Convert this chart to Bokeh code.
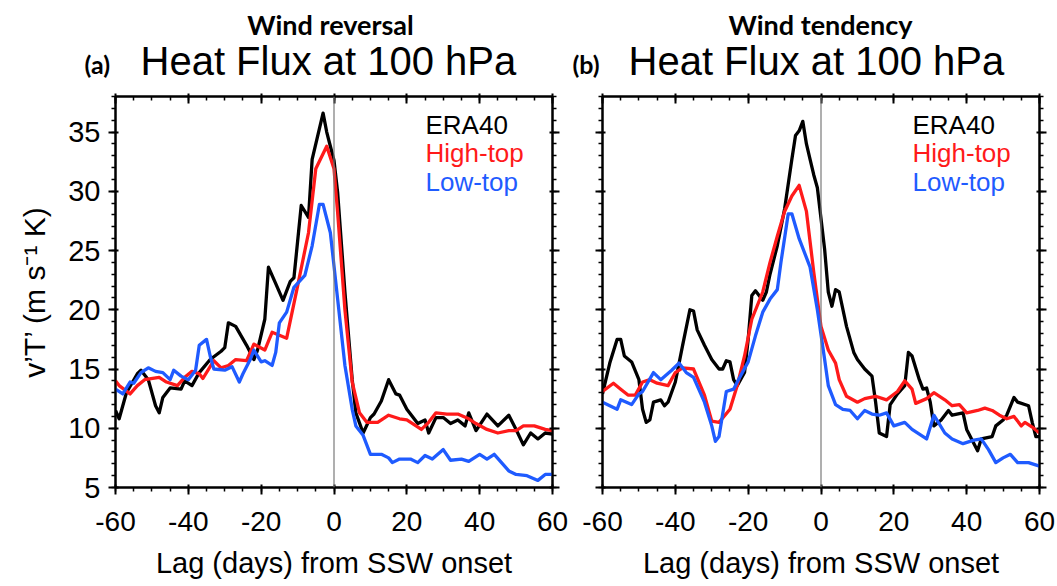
from bokeh.plotting import figure
from bokeh.layouts import row, column
from bokeh.models import (Range1d, LinearAxis, SingleIntervalTicker, Span, Label,
                          CustomLabelingPolicy)
from bokeh.embed import file_html
from bokeh.resources import INLINE

# ---------------- data ----------------
panel_titles = ["Wind reversal", "Wind tendency"]
panel_tags = ["(a)", "(b)"]
plot_title = "Heat Flux at 100 hPa"
series_names = ["ERA40", "High-top", "Low-top"]
series_colors = ["#000000", "#ff1a1a", "#1f5bff"]
x_label = "Lag (days) from SSW onset"
y_label = "v\u2019T\u2019 (m s\u207b\u00b9 K)"
x_ticks = [-60, -40, -20, 0, 20, 40, 60]
y_ticks = [5, 10, 15, 20, 25, 30, 35]

# Panel (a) Wind reversal
a_era_lag = [-60, -59, -57, -54, -53, -51, -49, -48, -47, -45, -42, -41, -39, -37, -34, -31, -30, -29, -27,
             -24, -22, -21, -19, -18, -16, -14, -12, -11, -9, -7, -6, -3, -2, -1, 0, 1, 3, 5, 6, 8, 10, 11,
             13, 15, 17, 18, 20, 23, 25, 26, 28, 30, 32, 34, 36, 37, 39, 42, 45, 48, 50, 52, 54, 56, 58, 60]
a_era_val = [11.5, 10.8, 13.0, 14.6, 14.9, 14.1, 11.9, 11.3, 12.6, 13.4, 13.3, 14.0, 13.6, 14.7, 15.8, 16.5,
             16.8, 18.9, 18.6, 17.0, 15.8, 16.6, 19.2, 23.6, 22.2, 20.8, 22.4, 22.7, 28.8, 27.8, 32.7, 36.6,
             35.0, 33.8, 32.6, 29.9, 21.5, 14.1, 11.3, 9.6, 10.9, 11.2, 12.3, 14.1, 12.9, 12.8, 11.6, 10.4,
             10.7, 9.6, 10.9, 10.9, 10.4, 10.7, 10.2, 11.3, 9.8, 11.2, 10.2, 11.1, 9.9, 8.6, 9.6, 9.1, 9.6, 9.5]
a_high_lag = [-60, -59, -56, -54, -52, -48, -46, -43, -41, -39, -37, -36, -33, -31, -29, -27, -24, -22, -19,
              -17, -13, -10, -7, -5, -2, 0, 1, 3, 5, 7, 9, 12, 15, 18, 20, 24, 26, 28, 31, 34, 37, 39, 42,
              45, 48, 50, 52, 55, 58, 60]
a_high_val = [14.0, 13.6, 12.9, 13.6, 14.1, 14.3, 13.9, 13.6, 14.3, 14.8, 14.6, 14.2, 15.7, 15.1, 15.3, 15.8,
              15.7, 17.1, 16.6, 18.1, 17.6, 22.0, 26.5, 31.9, 33.8, 31.9, 28.2, 20.0, 13.9, 11.3, 10.5, 10.5,
              11.1, 10.8, 10.7, 9.9, 10.5, 11.3, 11.2, 11.2, 10.8, 10.4, 9.9, 9.6, 9.8, 9.8, 10.2, 10.2, 9.9, 9.8]
a_low_lag = [-60, -58, -56, -55, -53, -51, -49, -47, -45, -44, -42, -40, -38, -37, -35, -34, -33, -30, -28,
             -26, -25, -23, -22, -20, -19, -17, -16, -15, -13, -11, -8, -6, -4, -3, -1, 1, 3, 5, 6, 8, 10,
             13, 15, 16, 18, 21, 23, 25, 27, 30, 32, 35, 37, 40, 42, 44, 46, 48, 50, 53, 56, 58, 60]
a_low_val = [13.3, 12.9, 13.9, 13.8, 14.7, 15.1, 14.8, 14.7, 14.1, 14.9, 14.4, 14.1, 14.9, 17.0, 17.5, 16.1,
             15.0, 14.9, 15.2, 13.9, 14.6, 15.8, 16.6, 15.6, 15.7, 15.3, 16.4, 18.9, 19.8, 21.9, 22.9, 25.4,
             28.9, 28.9, 26.5, 20.9, 15.3, 11.6, 10.2, 9.4, 7.8, 7.8, 7.5, 7.1, 7.4, 7.4, 7.1, 7.7, 7.4, 8.2,
             7.3, 7.4, 7.2, 7.8, 7.4, 7.8, 7.1, 6.4, 6.1, 6.0, 5.6, 6.1, 6.1]

# Panel (b) Wind tendency
b_era_lag = [-60, -58, -56, -55, -54, -52, -50, -49, -48, -47, -46, -44, -43, -42, -40, -38, -36, -35, -34,
             -32, -30, -28, -27, -26, -25, -24, -23, -21, -20, -19, -18, -16, -15, -14, -12, -10, -8, -7,
             -6, -5, -4, -3, -2, -1, 1, 2, 3, 4, 5, 7, 9, 10, 12, 14, 15, 16, 18, 19, 21, 23, 24, 25, 27,
             28, 29, 30, 31, 33, 35, 36, 39, 40, 43, 44, 47, 48, 50, 51, 53, 54, 57, 58, 59, 60]
b_era_val = [12.9, 15.5, 17.5, 17.5, 16.1, 15.6, 14.1, 11.6, 10.5, 10.7, 12.2, 12.4, 11.9, 12.2, 13.9, 17.0,
             20.0, 19.9, 18.3, 17.0, 15.8, 15.0, 15.0, 15.7, 15.6, 14.1, 13.6, 14.7, 17.5, 21.2, 21.6, 20.8,
             21.5, 23.0, 25.4, 28.5, 32.7, 34.7, 35.1, 35.9, 34.0, 32.7, 31.4, 30.3, 25.1, 21.5, 20.3, 21.7,
             21.5, 18.6, 16.4, 15.8, 15.0, 14.4, 12.2, 9.6, 9.3, 12.0, 12.9, 13.6, 16.4, 16.1, 14.1, 13.3,
             13.4, 12.2, 10.2, 10.7, 11.5, 11.1, 11.3, 9.9, 8.1, 9.1, 9.3, 10.2, 10.7, 11.1, 12.6, 12.2, 11.9,
             10.5, 9.3, 9.3]
b_high_lag = [-60, -57, -55, -53, -51, -49, -47, -45, -42, -40, -38, -35, -32, -30, -28, -25, -23, -21, -19,
              -16, -14, -12, -10, -8, -6, -4, -2, 0, 2, 4, 5, 7, 10, 12, 15, 18, 21, 23, 25, 26, 29, 31,
              34, 36, 38, 40, 43, 45, 47, 49, 51, 53, 55, 56, 58, 60]
b_high_val = [13.1, 13.8, 13.3, 12.8, 12.8, 13.9, 14.1, 13.8, 13.6, 14.7, 15.1, 15.0, 12.8, 10.6, 10.5, 11.6,
              13.6, 16.1, 19.2, 21.5, 24.0, 26.2, 28.3, 29.6, 30.5, 28.3, 23.2, 18.6, 16.6, 15.5, 14.1, 12.7,
              12.2, 12.5, 12.7, 12.4, 13.1, 14.0, 13.3, 12.1, 12.5, 13.0, 12.4, 11.9, 12.0, 11.3, 11.5, 11.7,
              11.5, 11.1, 10.8, 11.0, 10.2, 10.5, 10.1, 9.6]
b_low_lag = [-60, -58, -56, -55, -52, -50, -49, -46, -44, -41, -39, -37, -35, -32, -30, -29, -28, -26, -24,
             -23, -20, -18, -16, -14, -12, -11, -9, -8, -6, -3, -1, 1, 2, 4, 6, 8, 10, 12, 14, 16, 18, 20,
             23, 25, 29, 31, 34, 36, 39, 42, 44, 46, 48, 50, 52, 54, 57, 60]
b_low_val = [12.2, 11.9, 11.6, 12.4, 12.0, 12.9, 13.1, 14.7, 14.1, 14.9, 15.5, 14.7, 14.3, 12.2, 10.2, 8.9,
             9.3, 13.1, 13.3, 13.9, 15.6, 17.8, 19.8, 20.9, 21.7, 24.0, 28.1, 28.1, 26.0, 23.6, 20.0, 15.8,
             13.6, 12.0, 11.6, 11.5, 10.8, 11.5, 11.2, 11.1, 11.3, 10.2, 10.5, 9.9, 9.1, 11.1, 9.6, 9.1, 8.7,
             9.0, 9.1, 8.2, 7.1, 7.5, 7.8, 7.1, 7.1, 6.8]

panels = [
    [(a_era_lag, a_era_val), (a_high_lag, a_high_val), (a_low_lag, a_low_val)],
    [(b_era_lag, b_era_val), (b_high_lag, b_high_val), (b_low_lag, b_low_val)],
]

# ---------------- layout constants ----------------
W, H = 1057, 586
HEAD = 82
X0, X1 = -60, 60
Y0, Y1 = 5, 38
FW, FH = 437, 391
TOP, BOTTOM = 12, 101
SANS = "Liberation Sans"
BOLD = "Lato"

no_labels = CustomLabelingPolicy(code="for (const i of indices) indices.unset(i)")


def style(ax, inward=False):
    ax.axis_line_width = 2
    ax.major_tick_line_width = 2
    ax.minor_tick_line_width = 1.5
    if inward:
        ax.major_tick_in = 7
        ax.major_tick_out = 3
        ax.minor_tick_in = 4
        ax.minor_tick_out = 0
    else:
        ax.major_tick_in = 3
        ax.major_tick_out = 7
        ax.minor_tick_in = 0
        ax.minor_tick_out = 4
    ax.major_label_text_font = SANS
    ax.major_label_text_color = "black"
    ax.axis_label_text_font = SANS
    ax.axis_label_text_font_style = "normal"
    ax.axis_label_text_color = "black"


def make_panel(idx, border_left, border_right):
    p = figure(frame_width=FW, frame_height=FH,
               min_border_left=border_left, min_border_right=border_right,
               min_border_top=TOP, min_border_bottom=BOTTOM,
               x_range=Range1d(X0, X1), y_range=Range1d(Y0, Y1),
               output_backend="svg", toolbar_location=None,
               background_fill_color="white", border_fill_color="white")
    p.xgrid.visible = False
    p.ygrid.visible = False
    p.outline_line_color = "black"
    p.outline_line_width = 2

    p.xaxis.ticker = SingleIntervalTicker(interval=20, num_minor_ticks=4)
    p.yaxis.ticker = SingleIntervalTicker(interval=5, num_minor_ticks=5)
    style(p.xaxis[0])
    style(p.yaxis[0])
    p.xaxis.major_label_text_font_size = "28px"
    p.xaxis.major_label_standoff = 17
    p.xaxis.major_label_overrides = {t: str(t) for t in x_ticks}
    p.xaxis.axis_label = x_label
    p.xaxis.axis_label_text_font_size = "29px"
    p.xaxis.axis_label_standoff = 13
    if idx == 0:
        p.yaxis.major_label_text_font_size = "29px"
        p.yaxis.major_label_standoff = 8
        p.yaxis.major_label_overrides = {t: str(t) for t in y_ticks}
        p.yaxis.axis_label = y_label
        p.yaxis.axis_label_text_font_size = "30px"
        p.yaxis.axis_label_standoff = 14
    else:
        p.yaxis.major_label_policy = no_labels
        p.yaxis.major_label_standoff = 0

    top = LinearAxis(ticker=SingleIntervalTicker(interval=20, num_minor_ticks=4),
                     major_label_policy=no_labels, major_label_standoff=0)
    style(top, inward=True)
    p.add_layout(top, "above")
    right = LinearAxis(ticker=SingleIntervalTicker(interval=5, num_minor_ticks=5),
                       major_label_policy=no_labels, major_label_standoff=0)
    style(right)
    p.add_layout(right, "right")

    p.add_layout(Span(location=0, dimension="height", line_color="#7a7a7a", line_width=1.2))

    for (lag, val), col in zip(panels[idx], series_colors):
        p.line(lag, val, line_color=col, line_width=3.3, line_join="round")

    # legend texts (pixel offsets inside the frame -> data coordinates)
    def dx(px):
        return X0 + (px - border_left) * (X1 - X0) / FW

    def dy(py):
        return Y0 + (HEAD + TOP + FH - py) * (Y1 - Y0) / FH

    leg_x = [425, 912 - 576][idx]
    for k, (name, col) in enumerate(zip(series_names, series_colors)):
        p.add_layout(Label(x=dx(leg_x), y=dy(122 + 28.5 * k), text=name, text_font=SANS,
                           text_font_size="26px", text_align="left",
                           text_baseline="middle", text_color=col))
    return p


# header strip with the panel titles (pixel coordinates, y measured from the top)
head = figure(frame_width=W, frame_height=HEAD,
              min_border_left=0, min_border_right=0, min_border_top=0, min_border_bottom=0,
              x_range=Range1d(0, W), y_range=Range1d(HEAD, 0),
              x_axis_type=None, y_axis_type=None, output_backend="svg", toolbar_location=None,
              background_fill_color="white", border_fill_color="white")
head.outline_line_color = None
head.xgrid.visible = False
head.ygrid.visible = False
hdr_cx = [330, 820]
tag_x = [84, 572]
tit_x = [140, 628]
for i in range(2):
    head.add_layout(Label(x=hdr_cx[i], y=24, text=panel_titles[i], text_font=BOLD,
                          text_font_style="bold", text_font_size="27px", text_align="center",
                          text_baseline="middle", text_color="black"))
    head.add_layout(Label(x=tag_x[i], y=63, text=panel_tags[i], text_font=BOLD,
                          text_font_style="bold", text_font_size="25px", text_align="left",
                          text_baseline="middle", text_color="black"))
    head.add_layout(Label(x=tit_x[i], y=60, text=plot_title, text_font=SANS,
                          text_font_size="40px", text_align="left",
                          text_baseline="middle", text_color="black"))

p1 = make_panel(0, 115, 24)
p2 = make_panel(1, 26, 18)
layout = column(head, row(p1, p2, spacing=0), spacing=0)

open("out.html", "w").write(file_html(layout, INLINE))
